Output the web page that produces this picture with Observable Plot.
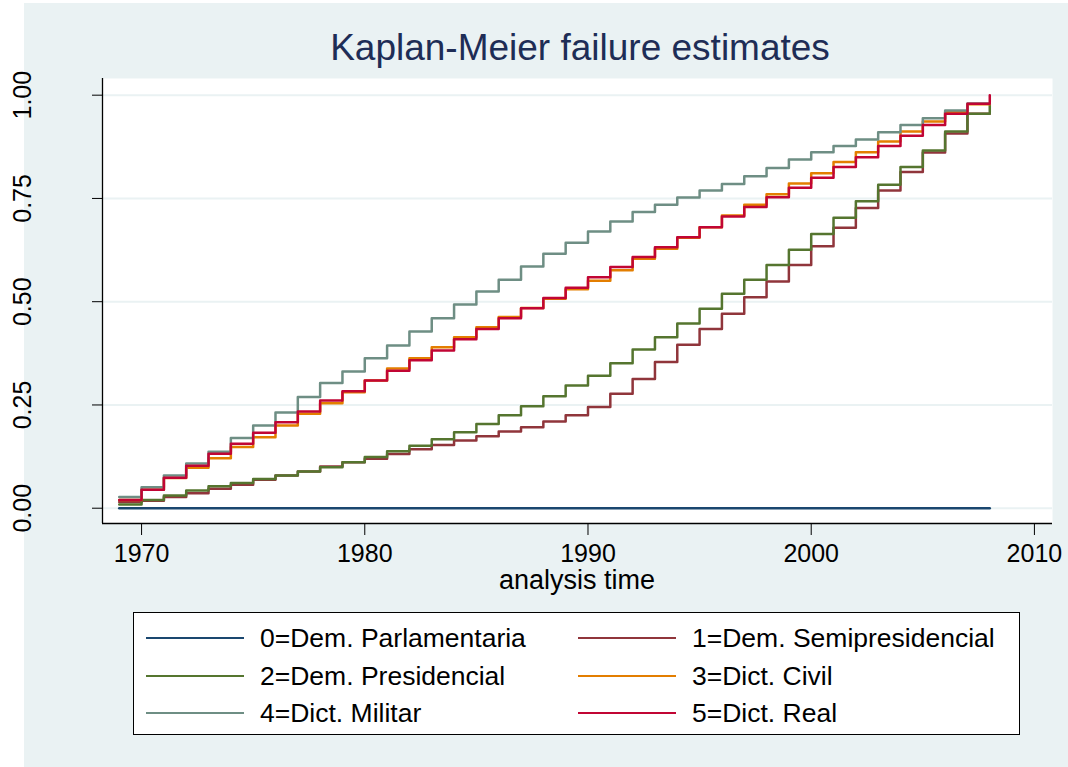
<!DOCTYPE html>
<html>
<head>
<meta charset="utf-8">
<script src="https://cdn.jsdelivr.net/npm/d3@7"></script>
<script src="https://cdn.jsdelivr.net/npm/@observablehq/plot@0.6"></script>
<style>
  html, body { margin: 0; padding: 0; background: #ffffff; }
  #root { position: relative; width: 1068px; height: 767px; overflow: hidden; font-family: "Liberation Sans", Arial, sans-serif; }
  #bg { position: absolute; left: 24px; top: 3px; right: 0; bottom: 0; background: #eaf2f3; }
  #chart { position: absolute; left: 0; top: 0; }
  #title { position: absolute; left: 0; width: 1160px; top: 27px; text-align: center; font-size: 37px; color: #1e2d56; white-space: nowrap; }
  #xlabel { position: absolute; left: 0; width: 1154px; top: 565px; text-align: center; font-size: 27px; color: #000; white-space: nowrap; }
  #legend { position: absolute; left: 133px; top: 612px; width: 885px; height: 121px; background: #fff; border: 1.5px solid #000; box-sizing: content-box; }
  .item { position: absolute; height: 30px; display: flex; align-items: center; font-size: 26.5px; white-space: nowrap; color: #000; }
  .swatch { width: 98px; height: 2.5px; margin-right: 16px; }
</style>
</head>
<body>
<div id="root">
  <div id="bg"></div>
  <div id="chart"></div>
  <div id="title">Kaplan-Meier failure estimates</div>
  <div id="xlabel">analysis time</div>
  <div id="legend"></div>
</div>
<script>
// ---- data ----
const years = [1969,1970,1971,1972,1973,1974,1975,1976,1977,1978,1979,1980,1981,1982,1983,1984,1985,1986,1987,1988,1989,1990,1991,1992,1993,1994,1995,1996,1997,1998,1999,2000,2001,2002,2003,2004,2005,2006,2007,2008];

const seriesNames = ["0=Dem. Parlamentaria","1=Dem. Semipresidencial","2=Dem. Presidencial","3=Dict. Civil","4=Dict. Militar","5=Dict. Real"];
const seriesColors = ["#1a476f","#90353b","#55752f","#e37e00","#6e8e84","#c10534"];

const demParlamentaria = [0,0,0,0,0,0,0,0,0,0,0,0,0,0,0,0,0,0,0,0,0,0,0,0,0,0,0,0,0,0,0,0,0,0,0,0,0,0,0,0];
const demSemipresidencial = [0.015,0.018,0.027,0.036,0.047,0.057,0.069,0.079,0.089,0.101,0.111,0.120,0.131,0.143,0.153,0.164,0.174,0.186,0.196,0.210,0.225,0.245,0.277,0.313,0.354,0.396,0.434,0.471,0.511,0.549,0.589,0.634,0.679,0.727,0.769,0.814,0.861,0.907,0.955,0.955];
const demPresidencial = [0.009,0.020,0.031,0.043,0.053,0.061,0.071,0.079,0.089,0.099,0.111,0.124,0.138,0.151,0.167,0.184,0.204,0.225,0.247,0.271,0.297,0.321,0.351,0.384,0.414,0.447,0.483,0.519,0.553,0.589,0.626,0.664,0.703,0.743,0.783,0.826,0.866,0.912,0.955,0.979];
const dictCivil = [0.020,0.045,0.073,0.098,0.121,0.148,0.172,0.200,0.229,0.254,0.281,0.309,0.338,0.363,0.390,0.414,0.438,0.463,0.485,0.507,0.530,0.551,0.576,0.604,0.628,0.655,0.680,0.709,0.735,0.760,0.786,0.811,0.838,0.862,0.888,0.912,0.936,0.959,0.978,0.978];
const dictMilitar = [0.027,0.051,0.079,0.108,0.137,0.170,0.200,0.232,0.269,0.303,0.331,0.363,0.394,0.428,0.460,0.493,0.525,0.553,0.585,0.616,0.643,0.670,0.694,0.717,0.735,0.752,0.769,0.785,0.804,0.824,0.844,0.862,0.877,0.893,0.910,0.928,0.944,0.963,0.980,0.980];
const dictReal = [0.020,0.045,0.074,0.103,0.132,0.156,0.183,0.208,0.234,0.261,0.283,0.309,0.333,0.358,0.382,0.409,0.434,0.460,0.484,0.509,0.534,0.559,0.584,0.608,0.632,0.656,0.680,0.706,0.729,0.753,0.776,0.800,0.826,0.850,0.877,0.902,0.928,0.955,0.979,1.000];

const xTicks = [1970,1980,1990,2000,2010];
const yTicks = [0,0.25,0.5,0.75,1];

// ---- build table ----
const allSeries = [demParlamentaria,demSemipresidencial,demPresidencial,dictCivil,dictMilitar,dictReal];
const rows = [];
allSeries.forEach((vals, si) => {
  vals.forEach((v, i) => rows.push({series: seriesNames[si], year: years[i], value: v}));
});

const xDomain = [1968.25, 2010.81];
const yDomain = [-0.037, 1.0404];

const chart = Plot.plot({
  width: 1068,
  height: 600,
  marginLeft: 102,
  marginRight: 16,
  marginTop: 78,
  marginBottom: 77,
  style: {background: "transparent", fontFamily: "'Liberation Sans', Arial, sans-serif", fontSize: "25px", color: "#000"},
  x: {domain: xDomain},
  y: {domain: yDomain},
  color: {domain: seriesNames, range: seriesColors},
  marks: [
    Plot.frame({fill: "#ffffff", stroke: "none"}),
    Plot.gridY(yTicks, {stroke: "#eaf2f3", strokeOpacity: 1, strokeWidth: 2}),
    Plot.ruleX([xDomain[0]], {stroke: "#000", strokeWidth: 1.3}),
    Plot.ruleY([yDomain[0]], {stroke: "#000", strokeWidth: 1.3}),
    Plot.axisX({ticks: xTicks, tickSize: 12, tickPadding: 9, tickFormat: d => String(d), label: null, fontSize: 25, stroke: "#000"}),
    Plot.axisY({ticks: yTicks, tickSize: 10, tickFormat: () => "", label: null, stroke: "#000"}),
    Plot.text(yTicks, {y: d => d, frameAnchor: "left", textAnchor: "middle", text: d => d.toFixed(2), rotate: -90, dx: -80, fontSize: 25, fill: "#000"}),
    Plot.line(rows, {x: "year", y: "value", z: "series", stroke: "series", curve: "step-after", strokeWidth: 2.5})
  ]
});
document.getElementById("chart").appendChild(chart);

// ---- legend ----
const legend = document.getElementById("legend");
const colX = [12, 444];
const rowY = [10, 48, 85];
seriesNames.forEach((name, i) => {
  const item = document.createElement("div");
  item.className = "item";
  item.style.left = colX[i % 2] + "px";
  item.style.top = rowY[Math.floor(i / 2)] + "px";
  const sw = document.createElement("div");
  sw.className = "swatch";
  sw.style.background = seriesColors[i];
  const t = document.createElement("span");
  t.textContent = name;
  item.appendChild(sw);
  item.appendChild(t);
  legend.appendChild(item);
});
</script>
</body>
</html>
